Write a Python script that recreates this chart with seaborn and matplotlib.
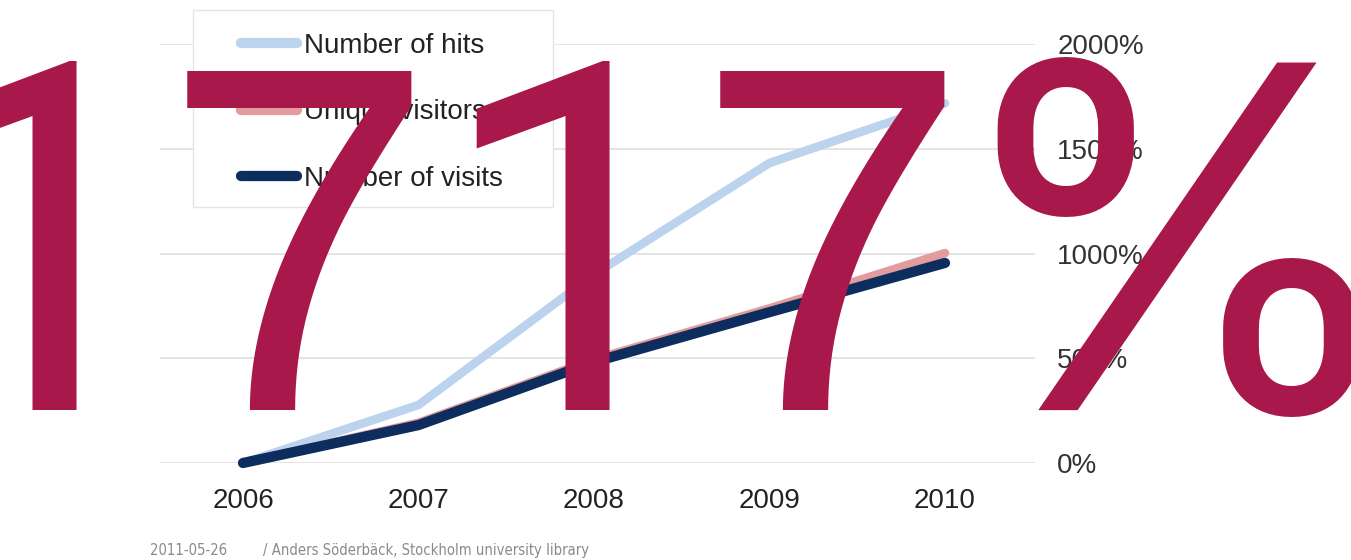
import matplotlib
matplotlib.use("Agg")
import matplotlib.pyplot as plt
from matplotlib import font_manager
import seaborn as sns
import pandas as pd
from matplotlib.patches import Rectangle
from matplotlib.ticker import FuncFormatter

years = ["2006", "2007", "2008", "2009", "2010"]
hits = [0, 277, 900, 1432, 1717]
unique_visitors = [0, 192, 495, 738, 1002]
visits = [0, 181, 482, 720, 955]
series_names = ["Number of hits", "Unique visitors", "Number of visits"]
y_ticks = [0, 500, 1000, 1500, 2000]
big_label = "1717%"
footer_date = "2011-05-26"
footer_credit = "/ Anders Söderbäck, Stockholm university library"

sns.set_theme(style="white")
plt.rcParams['font.family'] = ['Liberation Sans', 'DejaVu Sans']

installed = {f.name for f in font_manager.fontManager.ttflist}
if "Liberation Sans Narrow" in installed:
    footer_font = dict(family=["Liberation Sans Narrow", "DejaVu Sans"], fontsize=13.5)
else:
    footer_font = dict(family=["DejaVu Sans"], fontstretch="condensed", fontsize=10.6)

W, H = 1351, 560
fig = plt.figure(figsize=(W / 100, H / 100), dpi=100)
fig.patch.set_facecolor("white")
ax = fig.add_axes([160 / W, 1 - 463 / H, (1035 - 160) / W, (463 - 44) / H])
ax.set_facecolor("white")

df = pd.DataFrame({
    "year": years * 3,
    "value": hits + unique_visitors + visits,
    "series": [series_names[0]] * 5 + [series_names[1]] * 5 + [series_names[2]] * 5,
})

colors = {series_names[0]: "#BCD3EE", series_names[1]: "#E39C9C", series_names[2]: "#0C2D5E"}
widths = {series_names[0]: 6.2, series_names[1]: 6.2, series_names[2]: 7.4}

for name in series_names:
    sub = df[df["series"] == name]
    sns.lineplot(data=sub, x="year", y="value", ax=ax, color=colors[name],
                 linewidth=widths[name], label=name, legend=False,
                 solid_capstyle="round", solid_joinstyle="round", clip_on=False)

ax.set_xlim(-0.473, 4.513)
ax.set_ylim(0, 2000)
ax.set_yticks(y_ticks)
ax.yaxis.set_major_formatter(FuncFormatter(lambda v, p: f"{int(v)}%"))
ax.yaxis.tick_right()
ax.set_xlabel("")
ax.set_ylabel("")
ax.grid(axis="y", color="#E2E2E2", linewidth=1.3)
ax.grid(axis="x", visible=False)
for s in ax.spines.values():
    s.set_visible(False)
ax.tick_params(axis="y", length=0, pad=16, labelsize=20, labelcolor="#333333")
ax.tick_params(axis="x", length=0, pad=18, labelsize=20, labelcolor="#222222")
ax.set_axisbelow(True)

# legend frame
rect = Rectangle((193 / W, 1 - 207 / H), 360 / W, 197 / H, transform=fig.transFigure,
                 facecolor="white", edgecolor="#E4E4E4", linewidth=1.0, zorder=2)
fig.patches.append(rect)

handles, labels = ax.get_legend_handles_labels()
leg = fig.legend(handles, labels, loc="upper left",
                 bbox_to_anchor=(241 / W, 1 - 33 / H), frameon=False,
                 fontsize=20, handlelength=2.0, handletextpad=0.28,
                 labelspacing=1.45, borderpad=0, borderaxespad=0)
leg.set_zorder(3)
for t in leg.get_texts():
    t.set_color("#222222")
for lh in leg.get_lines():
    lh.set_linewidth(7.4)
    lh.set_solid_capstyle("round")

# big overlay figure "1717%", glyph by glyph (each set in the face closest to the original)
glyph_fonts = ["Roboto", "Liberation Sans", "Roboto", "Liberation Sans", "Inter"]
glyph_x = [-98, 162, 435, 695, 943]
glyph_size = [351, 355, 351, 355, 344]
for ch, fam, gx, gs in zip(big_label, glyph_fonts, glyph_x, glyph_size):
    fig.text(gx / W, 1 - 410 / H, ch, fontsize=gs, color="#A8184A",
             ha="left", va="baseline", zorder=10,
             family=[fam, "Liberation Sans", "DejaVu Sans"])

fig.text(150 / W, 1 - 555 / H, footer_date, color="#8A8A8A",
         ha="left", va="baseline", **footer_font)
fig.text(263 / W, 1 - 555 / H, footer_credit, color="#8A8A8A",
         ha="left", va="baseline", **footer_font)

fig.savefig("out.png", dpi=100, facecolor="white")
